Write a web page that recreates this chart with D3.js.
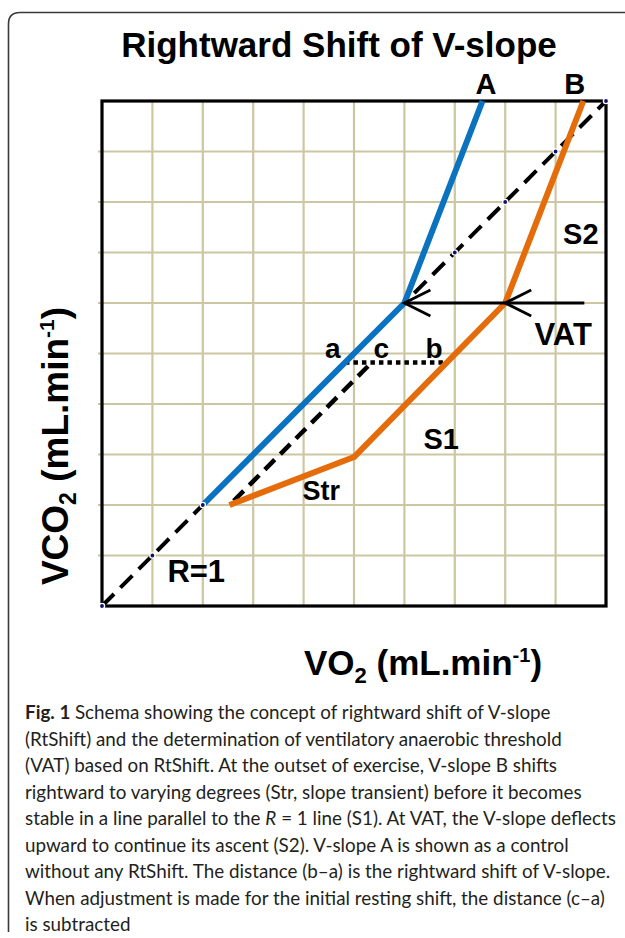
<!DOCTYPE html>
<html>
<head>
<meta charset="utf-8">
<script src="https://cdn.jsdelivr.net/npm/d3@7"></script>
<style>
  html, body { margin: 0; padding: 0; background: #fff; }
  svg { display: block; }
  .lbl { font-family: "Liberation Sans", Arial, sans-serif; font-weight: bold; fill: #000; }
  .cap { font-family: "Lato", "Open Sans", sans-serif; fill: #231f20; }
</style>
</head>
<body>
<div id="chart-area"></div>
<script>

// chart values (grid units, 0..10 on both axes)
let gridTicks = [0, 1, 2, 3, 4, 5, 6, 7, 8, 9, 10];
let lineA = [[2, 2], [6, 6], [7.55, 10]];
let lineB = [[2.53, 2], [5, 2.95], [8, 6], [9.55, 10]];
let rOneLine = [[0, 0], [10, 10]];
let shiftLine = [[2.53, 2], [5.35, 4.82]];
let shiftGap = [[4.82, 4.82], [6.87, 4.82]];
let rOneDots = [0, 1, 2, 7, 8, 9, 10];
let vatLine = [[9.57, 6], [6, 6]];
let vatHeads = [[6, 6], [8, 6]];

let pointLabels = ["A", "B", "S2", "VAT", "a", "c", "b", "S1", "Str", "R=1"];
let labelX = [7.62, 9.38, 9.5, 9.15, 4.58, 5.54, 6.59, 6.73, 4.35, 1.87];
let labelY = [10.14, 10.14, 7.16, 5.16, 4.92, 4.92, 4.92, 3.11, 2.1, 0.48];
let labelSize = [29, 29, 29, 31, 28, 28, 28, 29, 27, 31];

let title = "Rightward Shift of V-slope";
let captionLines = [
	"Schema showing the concept of rightward shift of V-slope",
	"(RtShift) and the determination of ventilatory anaerobic threshold",
	"(VAT) based on RtShift. At the outset of exercise, V-slope B shifts",
	"rightward to varying degrees (Str, slope transient) before it becomes",
	"stable in a line parallel to the |R| = 1 line (S1). At VAT, the V-slope deflects",
	"upward to continue its ascent (S2). V-slope A is shown as a control",
	"without any RtShift. The distance (b\u2013a) is the rightward shift of V-slope.",
	"When adjustment is made for the initial resting shift, the distance (c\u2013a)",
	"is subtracted"
];

let width = 625,
	height = 938;

let svg = d3.select("#chart-area").append("svg")
	.attr("width", width)
	.attr("height", height);

// panel frame
svg.append("path")
	.attr("d", "M8.5,932 L8.5,24 Q8.5,12.5 20,12.5 L630,12.5")
	.attr("fill", "none")
	.attr("stroke", "#3a3a3a")
	.attr("stroke-width", 1.6);

let x = d3.scaleLinear().domain([0, 10]).range([102, 606]);
let y = d3.scaleLinear().domain([0, 10]).range([606, 101]);

// grid
let grid = svg.append("g");
grid.selectAll(".vg").data(gridTicks.slice(1, -1)).enter()
	.append("line")
	.attr("x1", d => x(d)).attr("x2", d => x(d))
	.attr("y1", y(10)).attr("y2", y(0))
	.attr("stroke", "#cdc6a2").attr("stroke-width", 2.2);
grid.selectAll(".hg").data(gridTicks.slice(1, -1)).enter()
	.append("line")
	.attr("x1", x(0) - 4).attr("x2", x(10))
	.attr("y1", d => y(d)).attr("y2", d => y(d))
	.attr("stroke", "#cdc6a2").attr("stroke-width", 2.2);

// plot box
svg.append("rect")
	.attr("x", x(0)).attr("y", y(10))
	.attr("width", x(10) - x(0)).attr("height", y(0) - y(10))
	.attr("fill", "none").attr("stroke", "#000").attr("stroke-width", 3.2);

let line = d3.line().x(d => x(d[0])).y(d => y(d[1]));

// R = 1 line and shifted parallel
svg.append("path").attr("d", line(rOneLine))
	.attr("fill", "none").attr("stroke", "#000").attr("stroke-width", 4)
	.attr("stroke-dasharray", "17,9");
svg.append("path").attr("d", line(shiftLine))
	.attr("fill", "none").attr("stroke", "#000").attr("stroke-width", 4.5)
	.attr("stroke-dasharray", "14,8").attr("stroke-dashoffset", -6);

// dotted shift segment
svg.append("path").attr("d", line(shiftGap))
	.attr("fill", "none").attr("stroke", "#000").attr("stroke-width", 4.5)
	.attr("stroke-dasharray", "4.5,4");

// V-slopes
svg.append("path").attr("d", line(lineB))
	.attr("fill", "none").attr("stroke", "#e46c0a").attr("stroke-width", 6)
	.attr("stroke-linejoin", "round");
svg.append("path").attr("d", line(lineA))
	.attr("fill", "none").attr("stroke", "#0b72c0").attr("stroke-width", 6)
	.attr("stroke-linejoin", "round");

// R = 1 markers
svg.selectAll(".dot").data(rOneDots).enter()
	.append("circle")
	.attr("cx", d => x(d)).attr("cy", d => y(d))
	.attr("r", 2.6)
	.attr("fill", "#10106e").attr("stroke", "#fff").attr("stroke-width", 1.4);

// VAT arrow
svg.append("path").attr("d", line(vatLine))
	.attr("fill", "none").attr("stroke", "#000").attr("stroke-width", 3);
svg.selectAll(".head").data(vatHeads).enter()
	.append("path")
	.attr("d", d => {
		let tx = x(d[0]), ty = y(d[1]);
		return "M" + (tx + 26) + "," + (ty - 13) + " L" + tx + "," + ty + " L" + (tx + 26) + "," + (ty + 13);
	})
	.attr("fill", "none").attr("stroke", "#000").attr("stroke-width", 2.8);

// in-plot labels
svg.selectAll(".pl").data(pointLabels).enter()
	.append("text")
	.attr("class", "lbl")
	.attr("x", (d, i) => x(labelX[i]))
	.attr("y", (d, i) => y(labelY[i]))
	.attr("text-anchor", "middle")
	.attr("font-size", (d, i) => labelSize[i])
	.text(d => d);

// title
svg.append("text").attr("class", "lbl")
	.attr("x", 339).attr("y", 57)
	.attr("text-anchor", "middle")
	.attr("font-size", 35)
	.text(title);

// axis titles
let xt = svg.append("text").attr("class", "lbl")
	.attr("x", 423).attr("y", 675)
	.attr("text-anchor", "middle")
	.attr("font-size", 35);
xt.append("tspan").text("VO");
xt.append("tspan").attr("font-size", 22).attr("dy", 8).text("2");
xt.append("tspan").attr("dy", -8).text(" (mL.min");
xt.append("tspan").attr("font-size", 20).attr("dy", -13).text("-1");
xt.append("tspan").attr("dy", 13).text(")");

let yt = svg.append("text").attr("class", "lbl")
	.attr("transform", "translate(68,446) rotate(-90)")
	.attr("text-anchor", "middle")
	.attr("font-size", 37);
yt.append("tspan").text("VCO");
yt.append("tspan").attr("font-size", 23).attr("dy", 8).text("2");
yt.append("tspan").attr("dy", -8).text(" (mL.min");
yt.append("tspan").attr("font-size", 21).attr("dy", -14).text("-1");
yt.append("tspan").attr("dy", 14).text(")");

// caption
let probe = svg.append("text").attr("class", "cap").attr("font-size", 20)
	.text(captionLines[4].replace(/\|/g, ""));
let capSize = 20 * 592 / probe.node().getComputedTextLength();
probe.remove();

captionLines.forEach((ln, i) => {
	let t = svg.append("text").attr("class", "cap")
		.attr("x", 25).attr("y", 719 + i * 26.5)
		.attr("font-size", capSize);
	if (i === 0) {
		t.append("tspan").attr("font-weight", "bold").text("Fig. 1 ");
	}
	ln.split("|").forEach((part, j) => {
		let s = t.append("tspan").text(part);
		if (j % 2 === 1) s.attr("font-style", "italic");
	});
});

</script>
</body>
</html>
